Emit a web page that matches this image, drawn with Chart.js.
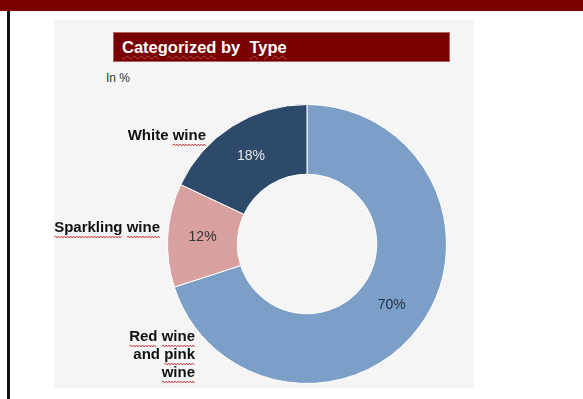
<!DOCTYPE html>
<html>
<head>
<meta charset="utf-8">
<script src="https://cdn.jsdelivr.net/npm/chart.js@4.4.1/dist/chart.umd.min.js"></script>
<style>
  body { margin: 0; width: 583px; height: 399px; position: relative; overflow: hidden; background: #fff;
         font-family: "Liberation Sans", Arial, sans-serif; }
  #topbar { position: absolute; left: 0; top: 0; width: 583px; height: 11px; background: #780000; }
  #leftline { position: absolute; left: 7px; top: 11px; width: 3px; height: 388px; background: #111; }
  #panel { position: absolute; left: 54px; top: 20px; width: 420px; height: 368px; background: #f5f5f5; }
  #title { position: absolute; left: 113px; top: 32px; width: 337px; height: 30px; box-sizing: border-box;
           background: #780000; border: 1px solid #b06464; color: #fff; font-weight: bold; font-size: 16.5px;
           line-height: 28px; padding-left: 8px; white-space: pre; }
  .sq { text-decoration: underline wavy #d04848; text-decoration-thickness: 1px; text-underline-offset: 2px; }
  #unit { position: absolute; left: 106px; top: 71px; font-size: 12px; color: #333; }
  #c { position: absolute; left: 0; top: 0; }
</style>
</head>
<body>
<div id="topbar"></div>
<div id="leftline"></div>
<div id="panel"></div>
<div id="title"><span class="sq">Categorized</span> by  <span class="sq">Type</span></div>
<div id="unit">In %</div>
<canvas id="c" width="583" height="399"></canvas>
<script>
// data
const categories = [["Red wine", "and pink", "wine"], "Sparkling wine", "White wine"];
const shares = [70, 12, 18];

// styles
const sliceColors = ["#7b9fc6", "#d9a0a0", "#2e4a6b"];
const pctColors = ["#1f2e45", "#333333", "#e8e8e8"];
const flaggedWords = [["Red", "wine", "pink"], ["Sparkling", "wine"], ["wine"]];
const labelOffsets = [{ dx: -112, dy: 93 }, { dx: -147, dy: -16 }, { dx: -101, dy: -108 }];

function squiggle(ctx, x0, x1, y) {
  ctx.beginPath();
  ctx.moveTo(x0, y);
  let up = true;
  for (let x = x0 + 1.5; x <= x1; x += 1.5) {
    ctx.lineTo(x, y + (up ? -1 : 1));
    up = !up;
  }
  ctx.strokeStyle = "#d04848";
  ctx.lineWidth = 1;
  ctx.stroke();
}

const wineLabels = {
  id: "wineLabels",
  afterDatasetsDraw(chart) {
    const ctx = chart.ctx;
    const meta = chart.getDatasetMeta(0);
    meta.data.forEach((arc, i) => {
      const p = arc.tooltipPosition();
      ctx.save();
      ctx.textBaseline = "middle";
      ctx.textAlign = "center";
      ctx.font = '14px "Liberation Sans", Arial, sans-serif';
      ctx.fillStyle = pctColors[i];
      ctx.fillText(shares[i] + "%", p.x, p.y);

      // category name next to the ring
      ctx.font = 'bold 15px "Liberation Sans", Arial, sans-serif';
      ctx.fillStyle = "#111";
      ctx.textAlign = "left";
      const lines = [].concat(categories[i]);
      lines.forEach((line, j) => {
        const right = arc.x + labelOffsets[i].dx;
        const y = arc.y + labelOffsets[i].dy + j * 18;
        const start = right - ctx.measureText(line).width;
        ctx.fillText(line, start, y);
        let pos = 0;
        line.split(" ").forEach(word => {
          const wx = start + ctx.measureText(line.slice(0, pos)).width;
          const ww = ctx.measureText(word).width;
          if (flaggedWords[i].includes(word)) squiggle(ctx, wx, wx + ww, y + 9);
          pos += word.length + 1;
        });
      });
      ctx.restore();
    });
  }
};

new Chart(document.getElementById("c").getContext("2d"), {
  type: "doughnut",
  data: {
    labels: categories,
    datasets: [{
      data: shares,
      backgroundColor: sliceColors,
      borderColor: "#ffffff",
      borderWidth: 1,
    }],
  },
  options: {
    responsive: false,
    animation: false,
    cutout: "50%",
    layout: { padding: { left: 167, right: 136, top: 104, bottom: 15 } },
    plugins: {
      legend: { display: false },
      tooltip: { enabled: false },
    },
  },
  plugins: [wineLabels],
});
</script>
</body>
</html>
